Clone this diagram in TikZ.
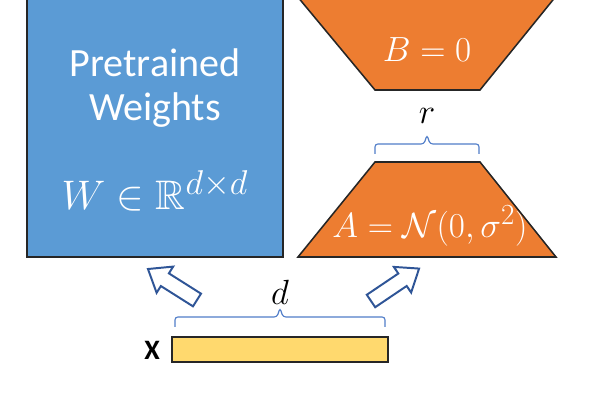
\documentclass[tikz,border=0pt]{standalone}
\usepackage{amsmath}
\usepackage{amssymb}
\usepackage{fontspec}
\setmainfont{Carlito}
\usepackage{tikz}
\definecolor{wblue}{RGB}{91,155,213}
\definecolor{loraorange}{RGB}{237,125,49}
\definecolor{xyellow}{RGB}{255,217,110}
\definecolor{arrowblue}{RGB}{47,85,151}
\definecolor{braceblue}{RGB}{80,125,200}

\begin{document}
\begin{tikzpicture}[
      x=0.025cm, y=-0.025cm,
      block/.style={draw=black!85, line width=1.1pt},
      wtxt/.style={text=white, font=\fontsize{28.5}{32}\selectfont},
      mtxt/.style={text=white, font=\fontsize{24.88}{28}\selectfont},
      dimtxt/.style={font=\fontsize{24.88}{28}\selectfont},
      brc/.style={draw=braceblue, line width=0.8pt, rounded corners=2pt},
      hollowarr/.style={draw=arrowblue, line width=1.4pt, fill=white, line join=miter},
    ]
      \clip (0,0) rectangle (600,400);
      % pretrained weights
      \draw[block, fill=wblue] (27,-10) rectangle (283,257);
      \node[wtxt] (pre) at (155,63) {Pretrained};
      \node[wtxt] (wts) at (155,110) {Weights};
      \node[mtxt, scale=1.18] (wdim) at (155,191) {$W\in\mathbb{R}^{d\times d}$};
      % B (up projection)
      \draw[block, fill=loraorange] (292,-10) -- (375,90) -- (480,90) -- (561,-10) -- cycle;
      \node[mtxt] (bzero) at (427,50) {$B=0$};
      % rank r
      \draw[brc] (375,154) -- (375,144) -- (424,144) -- (427,135) -- (430,144) -- (479,144) -- (479,154);
      \node[dimtxt] (rlbl) at (427,116) {$r$};
      % A (down projection)
      \draw[block, fill=loraorange] (375,162) -- (480,162) -- (556,257) -- (298,257) -- cycle;
      \node[mtxt] (anorm) at (430,226) {$A=\mathcal{N}(0,\sigma^2)$};
      % input x
      \draw[block, fill=xyellow] (172,337) rectangle (388,362);
      \node[font=\fontsize{20}{24}\selectfont\bfseries] (xlbl) at (152,350) {X};
      \draw[brc] (175,327) -- (175,317) -- (277,317) -- (280,308) -- (283,317) -- (385,317) -- (385,327);
      \node[dimtxt] (dlbl) at (280,292) {$d$};
      % input arrows
      \draw[hollowarr, shift={(197,300)}, rotate=147.7]
        (0,-7.5) -- (38,-7.5) -- (38,-15.5) -- (58,0) -- (38,15.5) -- (38,7.5) -- (0,7.5) -- cycle;
      \draw[hollowarr, shift={(371,301)}, rotate=34]
        (0,-7.5) -- (38,-7.5) -- (38,-15.5) -- (58,0) -- (38,15.5) -- (38,7.5) -- (0,7.5) -- cycle;
    \end{tikzpicture}
\end{document}
